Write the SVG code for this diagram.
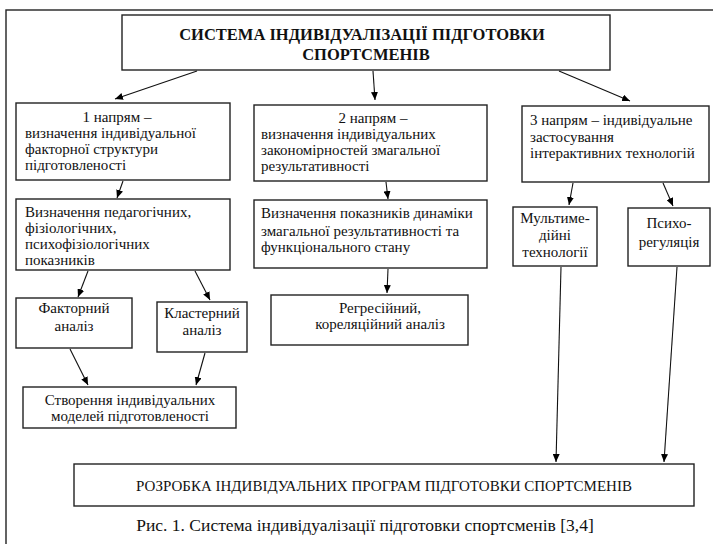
<svg xmlns="http://www.w3.org/2000/svg" width="713" height="544" viewBox="0 0 713 544">
<defs>
<marker id="ah" markerUnits="userSpaceOnUse" markerWidth="9" markerHeight="7" refX="8" refY="3.5" orient="auto">
<path d="M0,0 L8,3.5 L0,7 z" fill="#000"/>
</marker>
</defs>
<style>
.box{fill:#fff;stroke:#222;stroke-width:1.4}
text{font-family:'Liberation Serif','Times New Roman',serif;font-size:15px;fill:#111}
.c{text-anchor:middle}
.b{font-weight:bold;font-size:16.5px}
#connectors line{stroke:#111;stroke-width:1.1;marker-end:url(#ah)}
</style>
<rect width="713" height="544" fill="#fff"/>
<rect x="6" y="10" width="720" height="545" fill="none" stroke="#222" stroke-width="1.4"/>

<g id="title">
<rect class="box" x="122" y="15" width="488" height="55"/>
<text class="c b" x="362" y="40">СИСТЕМА ІНДИВІДУАЛІЗАЦІЇ ПІДГОТОВКИ</text>
<text class="c b" x="366" y="60">СПОРТСМЕНІВ</text>
</g>

<g id="dir1">
<rect class="box" x="16" y="103" width="214" height="77"/>
<text class="c" x="117" y="122">1 напрям –</text>
<text x="25" y="138">визначення індивідуальної</text>
<text x="25" y="154">факторної структури</text>
<text x="25" y="170">підготовленості</text>
</g>

<g id="dir2">
<rect class="box" x="254" y="105" width="233" height="76"/>
<text class="c" x="373" y="123">2 напрям –</text>
<text x="261" y="139">визначення індивідуальних</text>
<text x="261" y="155">закономірностей змагальної</text>
<text x="261" y="171">результативності</text>
</g>

<g id="dir3">
<rect class="box" x="522" y="106" width="187" height="76"/>
<text x="530" y="125">3 напрям – індивідуальне</text>
<text x="530" y="142">застосування</text>
<text x="530" y="158">інтерактивних технологій</text>
</g>

<g id="indicators1">
<rect class="box" x="16" y="199" width="214" height="71"/>
<text x="25" y="217">Визначення педагогічних,</text>
<text x="25" y="233">фізіологічних,</text>
<text x="25" y="249">психофізіологічних</text>
<text x="25" y="265">показників</text>
</g>

<g id="factor">
<rect class="box" x="16" y="298" width="116" height="50"/>
<text class="c" x="74" y="313">Факторний</text>
<text class="c" x="74" y="331">аналіз</text>
</g>

<g id="cluster">
<rect class="box" x="157" y="302" width="90" height="50"/>
<text class="c" x="202" y="318">Кластерний</text>
<text class="c" x="202" y="335">аналіз</text>
</g>

<g id="models">
<rect class="box" x="23" y="387" width="213" height="41"/>
<text class="c" x="130" y="405">Створення індивідуальних</text>
<text class="c" x="130" y="421">моделей підготовленості</text>
</g>

<g id="indicators2">
<rect class="box" x="254" y="200" width="233" height="68"/>
<text x="261" y="218">Визначення показників динаміки</text>
<text x="261" y="236">змагальної результативності та</text>
<text x="261" y="252">функціонального стану</text>
</g>

<g id="regression">
<rect class="box" x="271" y="295" width="197" height="50"/>
<text class="c" x="380" y="313">Регресійний,</text>
<text class="c" x="380" y="329">кореляційний аналіз</text>
</g>

<g id="multimedia">
<rect class="box" x="513" y="207" width="84" height="59"/>
<text class="c" x="555" y="223">Мультиме-</text>
<text class="c" x="555" y="240">дійні</text>
<text class="c" x="555" y="257">технології</text>
</g>

<g id="psycho">
<rect class="box" x="628" y="208" width="82" height="58"/>
<text class="c" x="669" y="228">Психо-</text>
<text class="c" x="669" y="247">регуляція</text>
</g>

<g id="final">
<rect class="box" x="74" y="464" width="620" height="42"/>
<text class="c" x="384" y="491">РОЗРОБКА ІНДИВІДУАЛЬНИХ ПРОГРАМ ПІДГОТОВКИ СПОРТСМЕНІВ</text>
</g>

<g id="caption">
<text class="c" x="365" y="531" style="font-size:17.5px">Рис. 1. Система індивідуалізації підготовки спортсменів [3,4]</text>
</g>

<g id="connectors">
<line x1="197" y1="71" x2="115" y2="99"/>
<line x1="373" y1="71" x2="375" y2="100"/>
<line x1="559" y1="71" x2="630" y2="101"/>
<line x1="123" y1="181" x2="117" y2="198"/>
<line x1="386" y1="182" x2="388" y2="199"/>
<line x1="573" y1="183" x2="569" y2="205"/>
<line x1="663" y1="183" x2="673" y2="206"/>
<line x1="88" y1="271" x2="78" y2="297"/>
<line x1="195" y1="271" x2="210" y2="300"/>
<line x1="388" y1="269" x2="387" y2="293"/>
<line x1="70" y1="349" x2="88" y2="385"/>
<line x1="205" y1="353" x2="196" y2="385"/>
<line x1="561" y1="267" x2="556" y2="462"/>
<line x1="677" y1="267" x2="664" y2="462"/>
</g>
</svg>
